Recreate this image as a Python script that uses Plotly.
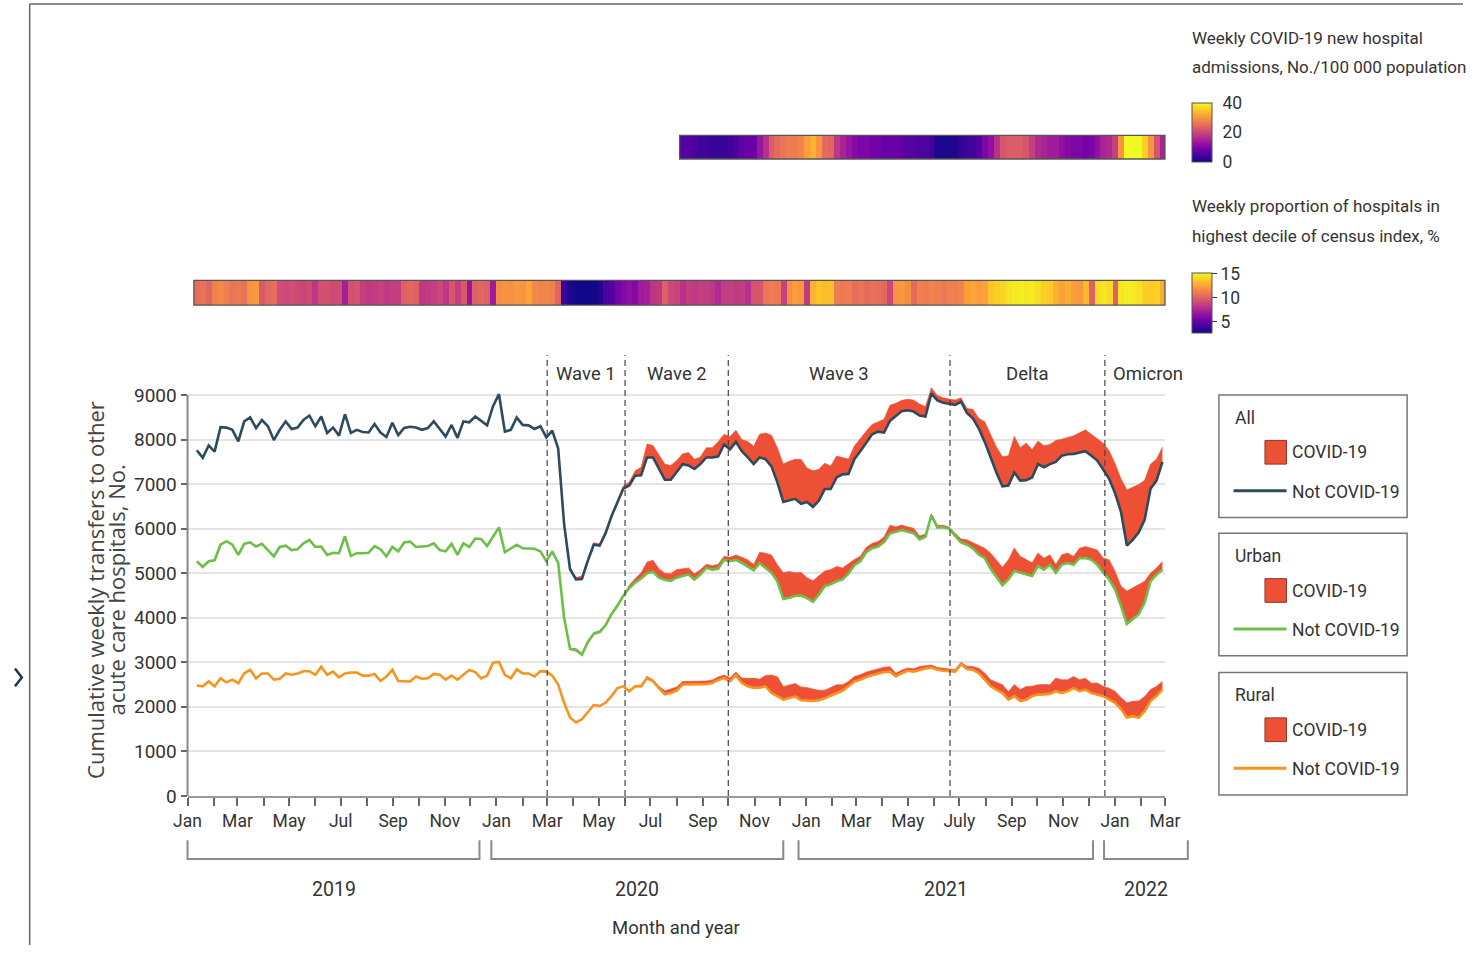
import numpy as np
import pandas as pd
import plotly.graph_objects as go

# ---------------------------------------------------------------- data
# Weekly series, one value per week starting 2019-01-12
week_start = "2019-01-12"
n_weeks = 164
covid_start = 59      # first week with COVID-19 transfers (end of Feb 2020)
admissions_start = 82  # first week of admissions reporting (Aug 2020)

all_not_covid = [
    7760, 7590, 7870, 7730, 8280, 8270, 8220, 7960, 8410, 8500,
    8260, 8440, 8300, 7990, 8220, 8410, 8240, 8270, 8440, 8540,
    8300, 8520, 8150, 8270, 8090, 8570, 8150, 8220, 8170, 8160,
    8350, 8160, 8060, 8380, 8100, 8260, 8290, 8270, 8220, 8260,
    8410, 8240, 8070, 8330, 8040, 8410, 8390, 8520, 8430, 8320,
    8750, 9020, 8180, 8220, 8500, 8330, 8320, 8240, 8300, 8050,
    8200, 7800, 6100, 5090, 4860, 4870, 5280, 5640, 5620, 5900,
    6280, 6610, 6900, 6970, 7190, 7200, 7600, 7600, 7350, 7100,
    7100, 7270, 7450, 7420, 7340, 7450, 7600, 7600, 7620, 7890,
    7780, 7950, 7740, 7600, 7450, 7600, 7560, 7400, 7040, 6600,
    6630, 6670, 6560, 6600, 6490, 6630, 6890, 6890, 7150, 7220,
    7230, 7560, 7740, 7920, 8120, 8180, 8160, 8420, 8520, 8640,
    8660, 8630, 8540, 8520, 9040, 8880, 8830, 8800, 8780, 8850,
    8600, 8480, 8250, 7950, 7600, 7250, 6950, 6970, 7260, 7080,
    7090, 7150, 7450, 7380, 7450, 7500, 7640, 7670, 7680, 7710,
    7740, 7640, 7530, 7330, 7120, 6800, 6380, 5620, 5750, 5920,
    6200, 6900, 7080, 7500,
]
urban_not_covid = [
    5270, 5140, 5270, 5290, 5640, 5720, 5640, 5410, 5660, 5690,
    5600, 5660, 5520, 5380, 5590, 5620, 5520, 5540, 5670, 5750,
    5590, 5600, 5410, 5460, 5450, 5830, 5390, 5450, 5450, 5460,
    5610, 5540, 5380, 5590, 5490, 5690, 5710, 5590, 5600, 5610,
    5670, 5520, 5490, 5660, 5410, 5670, 5590, 5780, 5770, 5610,
    5820, 6030, 5470, 5560, 5640, 5560, 5550, 5550, 5490, 5270,
    5490, 5230, 4000, 3300, 3270, 3170, 3450, 3640, 3680, 3830,
    4080, 4270, 4490, 4670, 4790, 4880, 5000, 5030, 4900, 4850,
    4830, 4900, 4940, 4970, 4860, 4970, 5120, 5080, 5100, 5300,
    5270, 5300, 5230, 5140, 5065, 5230, 5120, 5010, 4820, 4420,
    4450, 4490, 4500, 4440, 4360, 4520, 4710, 4750, 4820, 4860,
    4990, 5180, 5270, 5470, 5560, 5600, 5700, 5890, 5930, 5970,
    5930, 5900, 5760, 5820, 6300, 6030, 6030, 6000, 5840, 5690,
    5640, 5560, 5420, 5340, 5100, 4900, 4730, 4860, 5050, 5010,
    4970, 4940, 5160, 5080, 5190, 5010, 5190, 5230, 5190, 5340,
    5340, 5300, 5190, 5010, 4860, 4640, 4270, 3860, 3970, 4080,
    4340, 4820, 4970, 5080,
]
rural_not_covid = [
    2480, 2460, 2570, 2460, 2640, 2550, 2610, 2530, 2750, 2830,
    2640, 2750, 2750, 2610, 2630, 2750, 2720, 2750, 2800, 2800,
    2720, 2900, 2720, 2790, 2660, 2750, 2770, 2770, 2700, 2700,
    2740, 2580, 2680, 2830, 2580, 2570, 2570, 2680, 2630, 2640,
    2740, 2720, 2610, 2700, 2610, 2720, 2830, 2780, 2640, 2700,
    2990, 3010, 2720, 2640, 2840, 2750, 2750, 2680, 2800, 2790,
    2700, 2500, 2090, 1760, 1650, 1720, 1870, 2040, 2020, 2090,
    2240, 2420, 2460, 2350, 2460, 2460, 2645, 2570, 2420, 2280,
    2310, 2365, 2500, 2500, 2500, 2500, 2510, 2535, 2600, 2645,
    2570, 2710, 2535, 2460, 2425, 2430, 2460, 2310, 2230, 2160,
    2200, 2230, 2150, 2140, 2130, 2150, 2190, 2250, 2310, 2360,
    2460, 2570, 2610, 2670, 2710, 2750, 2780, 2790, 2680, 2755,
    2810, 2790, 2830, 2860, 2880, 2830, 2810, 2800, 2790, 2955,
    2850, 2830, 2755, 2610, 2460, 2380, 2310, 2160, 2240, 2130,
    2160, 2240, 2275, 2280, 2290, 2350, 2310, 2350, 2420, 2350,
    2385, 2310, 2275, 2240, 2160, 2090, 1950, 1760, 1790, 1760,
    1900, 2130, 2240, 2385,
]

# COVID-19 transfers, stacked on top of the non-COVID lines (from covid_start)
all_covid = [
    0, 0, 5, 10, 30, 50, 60, 50, 45, 40,
    40, 40, 45, 60, 80, 110, 180, 300, 270, 300,
    350, 320, 260, 230, 290, 220, 160, 220, 220, 330,
    230, 290, 260, 260, 360, 400, 520, 590, 700, 776,
    850, 887, 887, 1000, 760, 813, 702, 580, 520, 480,
    370, 333, 296, 296, 270, 222, 222, 296, 350, 296,
    244, 244, 259, 259, 222, 126, 111, 111, 111, 111,
    89, 100, 200, 230, 450, 517, 580, 665, 665, 813,
    739, 835, 628, 517, 480, 443, 480, 370, 370, 406,
    443, 480, 480, 480, 591, 628, 665, 739, 1256, 1183,
    1072, 887, 554, 480, 333,
]
urban_covid = [
    0, 0, 0, 5, 20, 40, 40, 35, 30, 30,
    30, 30, 35, 40, 60, 90, 130, 250, 260, 200,
    150, 160, 185, 160, 150, 130, 110, 80, 90, 100,
    80, 90, 110, 130, 160, 130, 240, 330, 400, 370,
    590, 590, 520, 520, 460, 470, 420, 340, 333, 333,
    260, 222, 130, 111, 111, 111, 111, 111, 185, 111,
    111, 111, 111, 74, 60, 37, 50, 45, 37, 60,
    80, 111, 130, 200, 222, 350, 400, 406, 443, 517,
    370, 333, 296, 296, 259, 222, 185, 222, 222, 185,
    222, 259, 259, 333, 333, 443, 406, 443, 739, 702,
    665, 480, 185, 148, 185,
]
rural_covid = [
    0, 0, 0, 0, 5, 10, 10, 10, 10, 10,
    10, 10, 10, 10, 15, 20, 30, 40, 40, 40,
    80, 90, 80, 70, 70, 70, 70, 70, 70, 70,
    70, 80, 70, 110, 180, 220, 190, 244, 407, 443,
    296, 296, 296, 296, 296, 270, 220, 185, 185, 185,
    133, 111, 111, 111, 111, 111, 111, 111, 111, 74,
    70, 60, 65, 74, 65, 60, 55, 50, 50, 50,
    45, 60, 74, 110, 148, 148, 170, 185, 185, 259,
    259, 296, 222, 222, 222, 207, 296, 296, 259, 259,
    259, 259, 222, 259, 222, 259, 259, 259, 333, 333,
    370, 333, 259, 222, 185,
]

# Weekly proportion of hospitals in highest decile of census index, %
census_top_decile = [
    10.6, 10.8, 10.2, 11.3, 11.6, 11.2, 10.9, 11.0, 10.8, 12.0,
    12.2, 9.8, 10.4, 10.6, 9.2, 9.0, 9.3, 9.0, 8.8, 9.1,
    8.3, 9.3, 9.4, 9.1, 9.2, 7.2, 9.4, 9.5, 8.6, 8.4,
    8.5, 8.7, 8.4, 8.6, 8.5, 10.0, 10.3, 10.1, 8.3, 8.4,
    8.6, 9.0, 8.3, 9.6, 8.6, 9.7, 6.8, 10.1, 10.3, 10.0,
    7.0, 11.8, 12.0, 11.9, 12.2, 12.0, 12.6, 11.6, 11.4, 11.5,
    11.3, 10.2, 3.8, 3.1, 2.9, 2.8, 2.8, 2.9, 3.2, 4.2,
    4.6, 5.6, 6.0, 6.4, 6.0, 7.0, 7.3, 8.2, 8.4, 10.0,
    9.0, 8.8, 8.0, 8.6, 8.4, 8.6, 8.5, 8.3, 7.7, 8.5,
    8.6, 8.4, 8.5, 8.0, 9.5, 9.6, 10.9, 11.1, 11.0, 8.7,
    11.8, 12.4, 12.1, 8.4, 13.0, 13.6, 13.4, 13.5, 11.2, 11.0,
    11.1, 10.6, 10.8, 10.5, 10.7, 10.6, 10.4, 9.0, 12.0, 12.2,
    11.8, 10.5, 11.3, 11.1, 11.4, 11.2, 11.0, 11.3, 11.2, 11.4,
    12.4, 12.6, 12.3, 12.5, 13.6, 14.0, 14.1, 14.5, 14.8, 14.9,
    14.7, 14.8, 14.4, 14.0, 13.8, 13.0, 12.5, 12.8, 12.4, 12.2,
    13.2, 10.1, 14.4, 14.6, 14.3, 10.1, 14.6, 14.9, 14.8, 14.5,
    14.0, 13.8, 14.0, 12.8,
]

# Weekly COVID-19 new hospital admissions per 100 000 population
new_admissions = [
    6, 6, 5, 4, 4, 3.5, 3.5, 3.5, 4, 5,
    7, 8, 8, 13, 17, 23, 25, 26, 27, 27,
    28, 31, 33, 30, 25, 24, 18, 15, 13, 11,
    10, 10, 9, 9, 8, 8, 8, 7, 6, 6,
    5, 5, 4, 1.5, 1, 1, 1.5, 3, 4, 4,
    6, 10, 12, 17, 22, 23, 23, 23, 22, 19,
    16, 15, 14, 14, 12, 11, 10, 10, 9, 10,
    12, 15, 16, 19, 30, 40, 42, 40, 36, 30,
    22, 15,
]

# Pandemic periods: boundaries and labels
period_bounds = ["2020-03-01", "2020-06-01", "2020-10-01", "2021-06-20",
                 "2021-12-20", "2022-04-01"]
period_labels = ["Wave 1", "Wave 2", "Wave 3", "Delta", "Omicron"]

# Month ticks and labels
month_ticks = pd.date_range("2019-01-01", "2022-03-01", freq="MS")
month_labels = [
    "Jan", "", "Mar", "", "May", "", "Jul", "", "Sep", "", "Nov", "",
    "Jan", "", "Mar", "", "May", "", "Jul", "", "Sep", "", "Nov", "",
    "Jan", "", "Mar", "", "May", "", "July", "", "Sep", "", "Nov", "",
    "Jan", "", "Mar",
]
year_labels = ["2019", "2020", "2021", "2022"]
year_spans = [("2019-01-01", "2019-12-12"), ("2019-12-26", "2020-12-05"),
              ("2020-12-23", "2021-12-06"), ("2021-12-19", "2022-03-28")]

# ---------------------------------------------------------------- layout helpers
W, H = 1478, 957
FONT = "Roboto, Liberation Sans, sans-serif"
TITLE_FONT = "Open Sans, sans-serif"
TXT = "#333333"
RED = "#ee5035"
X_LO, X_HI = pd.Timestamp("2019-01-01"), pd.Timestamp("2022-03-01")
X_DOM = [177 / W, 1174 / W]


def px(x):
    return x / W


def py(y):
    return 1 - y / H


def date_paper(d):
    d = pd.Timestamp(d)
    return X_DOM[0] + (d - X_LO) / (X_HI - X_LO) * (X_DOM[1] - X_DOM[0])


def note(x, y, text, size, xanchor="center", family=FONT, color=TXT, **kw):
    return dict(x=x, y=y, xref="paper", yref="paper", text=text, showarrow=False,
                xanchor=xanchor, yanchor="middle",
                font=dict(family=family, size=size, color=color), **kw)


weeks = pd.date_range(week_start, periods=n_weeks, freq="7D")

fig = go.Figure()

# ---------------------------------------------------------------- line + band traces
groups = [
    ("All", all_not_covid, all_covid, "#2d4b5c"),
    ("Urban", urban_not_covid, urban_covid, "#6cbf47"),
    ("Rural", rural_not_covid, rural_covid, "#f7941e"),
]
for name, base, covid, color in groups:
    base_arr = np.array(base, dtype=float)
    cov_arr = np.array(covid, dtype=float)
    bx = weeks[covid_start:]
    bb = base_arr[covid_start:]
    fig.add_trace(go.Scatter(x=bx, y=bb, mode="lines", line=dict(width=0),
                             showlegend=False, hoverinfo="skip"))
    fig.add_trace(go.Scatter(x=bx, y=bb + cov_arr, mode="lines",
                             line=dict(width=0.6, color=RED), fill="tonexty",
                             fillcolor=RED, name=f"{name} COVID-19", showlegend=False))
    fig.add_trace(go.Scatter(x=weeks, y=base_arr, mode="lines",
                             line=dict(color=color, width=2.6),
                             name=f"{name} Not COVID-19", showlegend=False))

# ---------------------------------------------------------------- heatmap strips
cb_font = dict(family=FONT, size=17.5, color=TXT)
fig.add_trace(go.Heatmap(
    x=weeks[admissions_start:], y=[0], z=[new_admissions],
    xaxis="x", yaxis="y2", colorscale="Plasma", zmin=0, zmax=40,
    colorbar=dict(x=px(1202), xanchor="left", y=py(104), yanchor="top",
                  len=59, lenmode="pixels", thickness=20, thicknessmode="pixels",
                  outlinewidth=1, outlinecolor="#555", xpad=0, ypad=0,
                  tickvals=[0, 20, 40], ticks="outside", ticklen=7,
                  tickcolor="rgba(0,0,0,0)", tickfont=cb_font),
))
fig.add_trace(go.Heatmap(
    x=weeks, y=[0], z=[census_top_decile],
    xaxis="x", yaxis="y3", colorscale="Plasma", zmin=2.7, zmax=15.2,
    colorbar=dict(x=px(1202), xanchor="left", y=py(276), yanchor="top",
                  len=60, lenmode="pixels", thickness=20, thicknessmode="pixels",
                  outlinewidth=1, outlinecolor="#555", xpad=0, ypad=0,
                  tickvals=[5, 10, 15], ticks="outside", ticklen=5,
                  tickcolor="#333", tickwidth=1.2, tickfont=cb_font),
))

shapes = []
annotations = []

# strip outlines
half_week = pd.Timedelta(days=3.5)
for d0, y0, y1 in [(weeks[admissions_start], 137, 161), (weeks[0], 284, 309)]:
    shapes.append(dict(type="rect", xref="paper", yref="paper",
                       x0=date_paper(d0 - half_week), x1=X_DOM[1],
                       y0=py(y1), y1=py(y0), line=dict(color="#555", width=1.3)))

# period dividers and labels
for d in period_bounds[:-1]:
    shapes.append(dict(type="line", xref="x", yref="y", x0=d, x1=d, y0=0, y1=9900,
                       line=dict(color="#444", width=1.2, dash="6px,4px")))
for lab, a, b in zip(period_labels, period_bounds[:-1], period_bounds[1:]):
    mid = pd.Timestamp(a) + (pd.Timestamp(b) - pd.Timestamp(a)) / 2
    annotations.append(dict(x=mid, y=9470, xref="x", yref="y", text=lab,
                            showarrow=False, xanchor="center", yanchor="middle",
                            font=dict(family=FONT, size=18.5, color=TXT)))

# y axis line (stops at the top gridline)
shapes.append(dict(type="line", xref="paper", yref="y", x0=X_DOM[0], x1=X_DOM[0],
                   y0=0, y1=9000, line=dict(color="#888", width=2)))

# year brackets and labels
for lab, (a, b) in zip(year_labels, year_spans):
    xa, xb = date_paper(a), date_paper(b)
    shapes.append(dict(type="path", xref="paper", yref="paper",
                       path=f"M {xa} {py(851)} L {xa} {py(870)} L {xb} {py(870)} L {xb} {py(851)}",
                       line=dict(color="#8a8a8a", width=2)))
    annotations.append(note((xa + xb) / 2, py(901), lab, 19.5))

annotations.append(note(px(675), py(940), "Month and year", 18.5))

# y axis title (two lines)
for text, xc in [("Cumulative weekly transfers to other", 82),
                 ("acute care hospitals, No.", 104)]:
    annotations.append(note(px(xc), py(597), text, 22, family=TITLE_FONT,
                            color="#444", textangle=-90))

# colour bar titles
for text, yc in [("Weekly COVID-19 new hospital", 38),
                 ("admissions, No./100 000 population", 68),
                 ("Weekly proportion of hospitals in", 209),
                 ("highest decile of census index, %", 239)]:
    annotations.append(note(px(1200), py(yc), text, 17, xanchor="left"))

# legend boxes
for (name, _, _, color), top in zip(groups, [400, 540, 681]):
    shapes.append(dict(type="rect", xref="paper", yref="paper",
                       x0=px(1229), x1=px(1421), y0=py(top + 124), y1=py(top),
                       line=dict(color="#777", width=1.5)))
    annotations.append(note(px(1243), py(top + 23), name, 17.5, xanchor="left"))
    shapes.append(dict(type="rect", xref="paper", yref="paper",
                       x0=px(1276), x1=px(1298), y0=py(top + 70), y1=py(top + 46),
                       fillcolor=RED, line=dict(color="#8a3a2a", width=1)))
    annotations.append(note(px(1302), py(top + 58), "COVID-19", 17.5, xanchor="left"))
    shapes.append(dict(type="line", xref="paper", yref="paper",
                       x0=px(1244), x1=px(1298), y0=py(top + 97), y1=py(top + 97),
                       line=dict(color=color, width=3)))
    annotations.append(note(px(1302), py(top + 98), "Not COVID-19", 17.5, xanchor="left"))

# page frame
shapes.append(dict(type="line", xref="paper", yref="paper", x0=px(16), x1=1,
                   y0=py(4), y1=py(4), line=dict(color="#666", width=1.5)))
shapes.append(dict(type="line", xref="paper", yref="paper", x0=px(16), x1=px(16),
                   y0=py(4), y1=0, line=dict(color="#666", width=1.5)))
shapes.append(dict(type="path", xref="paper", yref="paper",
                   path=f"M {px(1)} {py(677)} L {px(8)} {py(686)} L {px(1)} {py(695)}",
                   line=dict(color="#1f3550", width=2.5)))

fig.update_layout(
    width=W, height=H, autosize=False,
    margin=dict(l=0, r=0, t=0, b=0),
    paper_bgcolor="white", plot_bgcolor="white",
    font=dict(family=FONT, size=18, color=TXT),
    showlegend=False,
    xaxis=dict(domain=X_DOM, range=[X_LO, X_HI], type="date", anchor="y",
               tickvals=month_ticks, ticktext=month_labels,
               ticks="outside", ticklen=8, tickwidth=1.5, tickcolor="#666",
               showline=True, linecolor="#999", linewidth=2,
               showgrid=False, zeroline=False,
               tickfont=dict(family=FONT, size=17.5, color=TXT)),
    yaxis=dict(domain=[py(806), py(355)], range=[0, 10000],
               tickvals=list(range(0, 10000, 1000)),
               showgrid=True, gridcolor="#e4e4e4", gridwidth=2,
               ticks="outside", ticklen=6, tickwidth=1.5, tickcolor="#666",
               showline=False, zeroline=False,
               tickfont=dict(family=FONT, size=19, color=TXT)),
    yaxis2=dict(domain=[py(161), py(137)], range=[-0.5, 0.5], visible=False,
                anchor="x"),
    yaxis3=dict(domain=[py(309), py(284)], range=[-0.5, 0.5], visible=False,
                anchor="x"),
    shapes=shapes,
    annotations=annotations,
)

fig.write_html("out.html")
